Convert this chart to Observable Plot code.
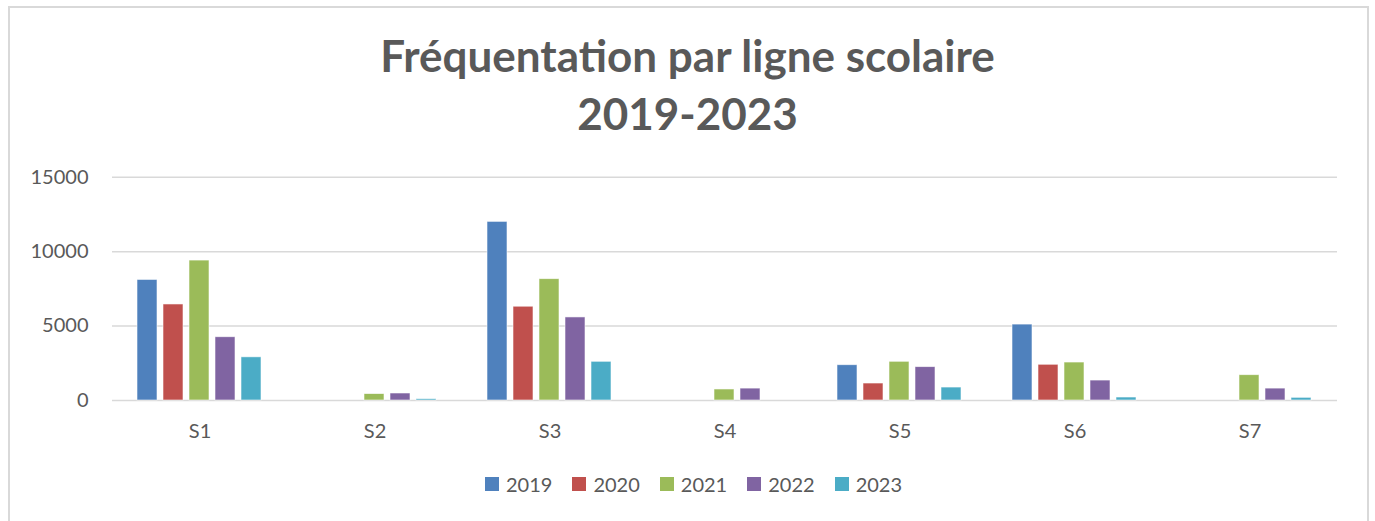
<!DOCTYPE html>
<html>
<head>
<meta charset="utf-8">
<script src="https://cdn.jsdelivr.net/npm/d3@7"></script>
<script src="https://cdn.jsdelivr.net/npm/@observablehq/plot@0.6"></script>
<style>
  html, body { margin: 0; padding: 0; background: #fff; }
  body { width: 1375px; height: 521px; position: relative; overflow: hidden; font-family: Lato, "Open Sans", sans-serif; }
  #frame { position: absolute; left: 8px; top: 6px; width: 1361px; height: 530px; border: 2px solid #d9d9d9; box-sizing: border-box; }
  #title { position: absolute; left: 0; width: 1375px; top: 26px; text-align: center; color: #595959; font-weight: bold; font-size: 44px; line-height: 58px; }
  #chart { position: absolute; left: 0; top: 150px; }
  #legend { position: absolute; left: 485px; top: 472px; display: flex; align-items: center; color: #595959; font-size: 20px; }
  #legend .item { display: flex; align-items: center; margin-right: 20px; }
  #legend .sw { width: 14px; height: 14px; margin-right: 7px; }
</style>
</head>
<body>
<div id="frame"></div>
<div id="title">Fréquentation par ligne scolaire<br>2019-2023</div>
<div id="chart"></div>
<div id="legend"></div>
<script>
const categories = ["S1", "S2", "S3", "S4", "S5", "S6", "S7"];
const years = ["2019", "2020", "2021", "2022", "2023"];
const v2019 = [8100, 0, 12000, 0, 2370, 5100, 0];
const v2020 = [6450, 0, 6300, 0, 1140, 2400, 0];
const v2021 = [9400, 430, 8150, 740, 2600, 2550, 1700];
const v2022 = [4250, 470, 5580, 800, 2240, 1340, 800];
const v2023 = [2900, 90, 2600, 0, 870, 200, 180];
const yTicks = [0, 5000, 10000, 15000];
const colors = ["#4f81bd", "#c0504d", "#9bbb59", "#8064a2", "#4bacc6"];

const series = [v2019, v2020, v2021, v2022, v2023];
const data = [];
categories.forEach((c, i) => {
  years.forEach((y, j) => {
    data.push({ line: c, year: y, value: series[j][i] });
  });
});

const chart = Plot.plot({
  width: 1375,
  height: 300,
  marginTop: 26.7,
  marginBottom: 50,
  marginLeft: 109,
  marginRight: 35,
  style: { fontFamily: "Lato, 'Open Sans', sans-serif", fontSize: "20px", color: "#595959", background: "transparent" },
  fx: { domain: categories, padding: 0, label: null, axis: null },
  x: { domain: years, paddingInner: 0.222, paddingOuter: 0.856, axis: null },
  y: { domain: [0, 15000], label: null },
  color: { domain: years, range: colors },
  marks: [
    Plot.ruleY(yTicks, { stroke: "#d9d9d9", strokeWidth: 1.5 }),
    Plot.barY(data.filter(d => d.value > 0), {
      fx: "line", x: "year", y: "value", fill: "year",
      stroke: "#ffffff", strokeWidth: 0.8, strokeOpacity: 0.7
    }),
    Plot.axisY(yTicks, { tickSize: 0, tickPadding: 24, label: null, fill: "#595959", tickFormat: d => String(d) }),
    Plot.axisFx({ anchor: "bottom", tickSize: 0, tickPadding: 23, label: null, fill: "#595959" })
  ]
});
document.getElementById("chart").appendChild(chart);

const legend = document.getElementById("legend");
years.forEach((y, j) => {
  const item = document.createElement("div");
  item.className = "item";
  const sw = document.createElement("div");
  sw.className = "sw";
  sw.style.background = colors[j];
  const t = document.createElement("span");
  t.textContent = y;
  item.appendChild(sw);
  item.appendChild(t);
  legend.appendChild(item);
});
</script>
</body>
</html>
